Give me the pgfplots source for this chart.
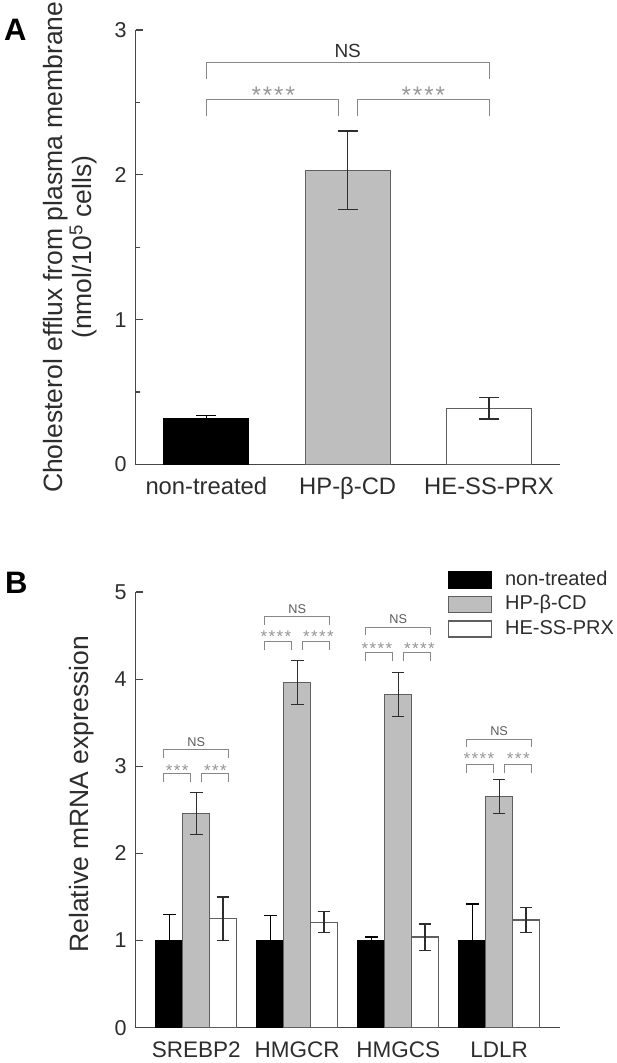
\documentclass[border=0pt]{standalone}
\usepackage{fontspec}
\setmainfont{Liberation Sans}
\usepackage{pgfplots}
\pgfplotsset{compat=1.18}

\definecolor{axisgray}{RGB}{70,70,70}
\definecolor{barfill}{RGB}{190,190,190}
\definecolor{barline}{RGB}{95,95,95}
\definecolor{brk}{RGB}{135,135,135}
\definecolor{startxt}{RGB}{150,150,150}
\definecolor{nstxt}{RGB}{90,90,90}
\definecolor{txt}{RGB}{45,45,45}
\definecolor{errc}{RGB}{45,45,45}

\newcommand{\fs}[1]{\fontsize{#1}{#1}\selectfont}
% stars: panel A and panel B sizes
\newcommand{\starsA}{*\kern2pt*\kern2pt*\kern2pt*}
\newcommand{\sfour}{*\kern1.4pt*\kern1.4pt*\kern1.4pt*}
\newcommand{\sthree}{*\kern1.4pt*\kern1.4pt*}

\tikzset{brkt/.style={draw=brk, line width=1pt}}

\pgfplotsset{
  panel/.style={
    scale only axis, width=424pt,
    axis lines*=left,
    axis line style={draw=axisgray, line width=1.2pt},
    tick align=inside,
    major tick length=7.7pt, minor tick length=4.3pt,
    ytick style={draw=axisgray, line width=1.2pt},
    xtick style={draw=none},
    /pgf/number format/assume math mode=true,
    yticklabel style={anchor=east, inner sep=0pt, xshift=-9pt, font=\fs{21.5}, text=txt},
    ylabel style={anchor=center, inner sep=0pt, text=txt},
    clip=false,
  },
  mybox/.style={legend image code/.code={\draw[##1, line width=1.2pt] (0pt,-8pt) rectangle (42.7pt,8pt);}},
  % error bars, caps of a given half width, in a given colour
  errs/.style 2 args={
    error bars/y dir=both, error bars/y explicit,
    error bars/error bar style={draw=#2, line width=1.2pt},
    error bars/error mark options={rotate=90, mark size=#1, draw=#2, line width=1.2pt},
  },
}

\begin{document}
\begin{tikzpicture}
\node[anchor=base west, inner sep=0pt, font=\bfseries\fs{31}] at (4pt,-40pt) {A};
\node[anchor=base west, inner sep=0pt, font=\bfseries\fs{31}] at (5pt,-593.3pt) {B};

% ---------- panel A ----------
\begin{axis}[panel,
  at={(135.7pt,-464.5pt)}, anchor=south west,
  height=434.5pt,
  xmin=-0.5, xmax=2.5, ymin=0, ymax=3,
  ybar, bar width=85pt, bar shift=0pt,
  xtick={0,1,2}, xticklabels={non-treated,HP-β-CD,HE-SS-PRX},
  xticklabel style={anchor=base, inner sep=0pt, yshift=-22.4pt, font=\fs{23.8}, text=txt},
  ytick={0,1,2,3}, minor ytick={0.5,1.5,2.5},
  ylabel={Cholesterol efflux from plasma membrane\\(nmol/10\textsuperscript{5} cells)},
  ylabel style={at={(axis description cs:-0.155,0.5)}, align=center, font=\fontsize{26.5}{29}\selectfont},
]
\addplot[fill=black, draw=black, line width=1.2pt, errs={10pt}{black}] coordinates {(0,0.314) +- (0,0.023)};
\addplot[fill=barfill, draw=barline, line width=1.2pt, errs={10pt}{errc}] coordinates {(1,2.03) +- (0,0.272)};
\addplot[fill=white, draw=barline, line width=1.2pt, errs={10pt}{errc}] coordinates {(2,0.388) +- (0,0.074)};

\draw[brkt] (axis cs:0,2.66) |- (axis cs:2,2.775) -- (axis cs:2,2.66);
\draw[brkt] (axis cs:0,2.407) |- (axis cs:0.938,2.517) -- (axis cs:0.938,2.407);
\draw[brkt] (axis cs:1.068,2.407) |- (axis cs:2,2.517) -- (axis cs:2,2.407);
\node[inner sep=0pt, font=\fs{19}, text=txt] at (axis cs:1,2.857) {NS};
\node[anchor=base, inner sep=0pt, yshift=-13.8pt, font=\fs{24}, text=startxt] at (axis cs:0.473,2.59) {\starsA};
\node[anchor=base, inner sep=0pt, yshift=-13.8pt, font=\fs{24}, text=startxt] at (axis cs:1.535,2.59) {\starsA};
\end{axis}

% ---------- panel B ----------
\begin{axis}[panel,
  at={(135.7pt,-1027.7pt)}, anchor=south west,
  height=435.7pt,
  xmin=-0.6, xmax=3.6, ymin=0, ymax=5,
  ybar=0pt, bar width=26.8pt,
  xtick={0,1,2,3}, xticklabels={SREBP2,HMGCR,HMGCS,LDLR},
  xticklabel style={anchor=base, inner sep=0pt, yshift=-22pt, font=\fs{22.5}, text=txt},
  ytick={0,1,2,3,4,5},
  ylabel={Relative mRNA expression},
  ylabel style={at={(axis description cs:-0.111,0.536)}, anchor=base, font=\fs{26.5}},
  legend style={at={(axis description cs:0.7366,1.0505)}, anchor=north west,
    draw=none, fill=none, inner sep=0pt, row sep=5pt, column sep=13pt,
    font=\fs{20}, text=txt,
    nodes={inner sep=0pt, text height=15pt, text depth=4.5pt}},
  legend cell align=left,
]
\addplot[mybox, fill=black, draw=black, line width=1.2pt, errs={6.3pt}{black}] coordinates {
  (0,1.0) +- (0,0.30)
  (1,1.0) +- (0,0.29)
  (2,1.0) +- (0,0.04)
  (3,1.0) +- (0,0.42)
};
\addplot[mybox, fill=barfill, draw=barline, line width=1.2pt, errs={6.3pt}{errc}] coordinates {
  (0,2.46) +- (0,0.24)
  (1,3.96) +- (0,0.25)
  (2,3.825) +- (0,0.25)
  (3,2.655) +- (0,0.195)
};
\addplot[mybox, fill=white, draw=barline, line width=1.2pt, errs={6.3pt}{errc}] coordinates {
  (0,1.25) +- (0,0.25)
  (1,1.21) +- (0,0.12)
  (2,1.04) +- (0,0.15)
  (3,1.235) +- (0,0.145)
};
\legend{non-treated,HP-β-CD,HE-SS-PRX}

% significance brackets, one block per gene
% SREBP2
\draw[brkt] (axis cs:-0.323,3.10) |- (axis cs:0.323,3.196) -- (axis cs:0.323,3.10);
\draw[brkt] (axis cs:-0.323,2.82) |- (axis cs:-0.058,2.92) -- (axis cs:-0.058,2.82);
\draw[brkt] (axis cs:0.052,2.82) |- (axis cs:0.323,2.92) -- (axis cs:0.323,2.82);
\node[inner sep=0pt, font=\fs{12.7}, text=nstxt] at (axis cs:0,3.28) {NS};
\node[anchor=base, inner sep=0pt, yshift=-9.8pt, font=\fs{17}, text=startxt] at (axis cs:-0.19,3.00) {\sthree};
\node[anchor=base, inner sep=0pt, yshift=-9.8pt, font=\fs{17}, text=startxt] at (axis cs:0.19,3.00) {\sthree};
% HMGCR
\draw[brkt] (axis cs:0.677,4.62) |- (axis cs:1.323,4.72) -- (axis cs:1.323,4.62);
\draw[brkt] (axis cs:0.677,4.34) |- (axis cs:0.942,4.43) -- (axis cs:0.942,4.34);
\draw[brkt] (axis cs:1.052,4.34) |- (axis cs:1.323,4.43) -- (axis cs:1.323,4.34);
\node[inner sep=0pt, font=\fs{12.7}, text=nstxt] at (axis cs:1,4.80) {NS};
\node[anchor=base, inner sep=0pt, yshift=-9.8pt, font=\fs{17}, text=startxt] at (axis cs:0.79,4.535) {\sfour};
\node[anchor=base, inner sep=0pt, yshift=-9.8pt, font=\fs{17}, text=startxt] at (axis cs:1.21,4.535) {\sfour};
% HMGCS
\draw[brkt] (axis cs:1.677,4.51) |- (axis cs:2.323,4.597) -- (axis cs:2.323,4.51);
\draw[brkt] (axis cs:1.677,4.21) |- (axis cs:1.942,4.31) -- (axis cs:1.942,4.21);
\draw[brkt] (axis cs:2.052,4.21) |- (axis cs:2.323,4.31) -- (axis cs:2.323,4.21);
\node[inner sep=0pt, font=\fs{12.7}, text=nstxt] at (axis cs:2,4.69) {NS};
\node[anchor=base, inner sep=0pt, yshift=-9.8pt, font=\fs{17}, text=startxt] at (axis cs:1.79,4.40) {\sfour};
\node[anchor=base, inner sep=0pt, yshift=-9.8pt, font=\fs{17}, text=startxt] at (axis cs:2.21,4.40) {\sfour};
% LDLR
\draw[brkt] (axis cs:2.677,3.22) |- (axis cs:3.323,3.31) -- (axis cs:3.323,3.22);
\draw[brkt] (axis cs:2.677,2.92) |- (axis cs:2.942,3.02) -- (axis cs:2.942,2.92);
\draw[brkt] (axis cs:3.052,2.92) |- (axis cs:3.323,3.02) -- (axis cs:3.323,2.92);
\node[inner sep=0pt, font=\fs{12.7}, text=nstxt] at (axis cs:3,3.40) {NS};
\node[anchor=base, inner sep=0pt, yshift=-9.8pt, font=\fs{17}, text=startxt] at (axis cs:2.80,3.13) {\sfour};
\node[anchor=base, inner sep=0pt, yshift=-9.8pt, font=\fs{17}, text=startxt] at (axis cs:3.19,3.13) {\sthree};
\end{axis}

% fix the page to the reference's frame
\pgfresetboundingbox
\path[use as bounding box] (0pt,0pt) rectangle (617pt,-1063pt);
\end{tikzpicture}
\end{document}
